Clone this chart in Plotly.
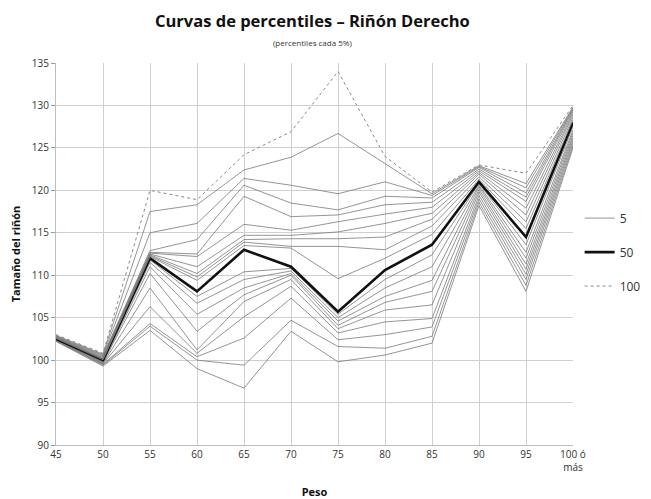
import plotly.graph_objects as go

weights = [45, 50, 55, 60, 65, 70, 75, 80, 85, 90, 95, 100]
tick_labels = ["45", "50", "55", "60", "65", "70", "75", "80", "85", "90", "95", "100 ó<br>más"]

p5 = [102.2, 99.3, 103.5, 99.0, 96.7, 103.4, 99.8, 100.6, 102.0, 118.2, 108.1, 125.0]
p10 = [102.25, 99.4, 104.0, 100.0, 99.4, 104.7, 101.6, 101.4, 102.8, 118.6, 108.8, 125.3]
p15 = [102.3, 99.5, 104.3, 100.4, 102.6, 107.3, 102.4, 103.0, 103.9, 119.0, 109.5, 125.6]
p20 = [102.35, 99.55, 106.3, 100.8, 105.1, 108.7, 103.2, 104.5, 104.9, 119.4, 110.1, 125.9]
p25 = [102.4, 99.6, 108.5, 101.2, 106.9, 109.5, 103.7, 105.9, 106.5, 119.8, 110.7, 126.2]
p30 = [102.42, 99.7, 110.2, 103.4, 107.7, 110.0, 104.1, 106.8, 108.1, 120.1, 111.3, 126.5]
p35 = [102.45, 99.75, 111.0, 105.4, 108.5, 110.2, 104.6, 107.5, 109.4, 120.4, 112.0, 126.8]
p40 = [102.47, 99.8, 111.5, 106.7, 109.5, 110.5, 105.0, 108.5, 111.0, 120.6, 112.7, 127.1]
p45 = [102.5, 99.9, 111.8, 107.5, 110.4, 110.8, 105.4, 109.5, 112.4, 120.8, 113.6, 127.5]
p50 = [102.5, 100.0, 112.0, 108.1, 113.0, 111.0, 105.7, 110.6, 113.6, 121.0, 114.5, 128.0]
p55 = [102.55, 100.05, 112.2, 109.4, 113.5, 113.2, 109.6, 112.0, 114.8, 121.3, 115.5, 128.3]
p60 = [102.6, 100.1, 112.3, 109.8, 113.9, 113.4, 113.4, 113.0, 115.8, 121.6, 116.3, 128.6]
p65 = [102.62, 100.15, 112.4, 110.2, 114.2, 114.3, 114.3, 114.5, 116.6, 121.9, 117.1, 128.9]
p70 = [102.65, 100.2, 112.5, 111.0, 114.7, 114.7, 115.1, 116.1, 117.3, 122.1, 117.9, 129.1]
p75 = [102.7, 100.3, 112.6, 112.2, 116.0, 115.3, 116.3, 117.2, 118.0, 122.3, 118.7, 129.3]
p80 = [102.75, 100.4, 112.7, 112.5, 119.3, 116.9, 117.1, 118.3, 118.6, 122.5, 119.2, 129.5]
p85 = [102.8, 100.5, 112.9, 114.2, 120.6, 118.5, 117.7, 119.3, 119.1, 122.7, 119.7, 129.6]
p90 = [102.85, 100.6, 115.0, 116.1, 121.4, 120.6, 119.6, 121.0, 119.4, 122.8, 120.3, 129.7]
p95 = [102.9, 100.7, 117.5, 118.3, 122.4, 123.9, 126.7, 123.2, 119.6, 122.9, 120.8, 129.8]
p100 = [103.0, 100.8, 120.0, 118.9, 124.2, 126.9, 134.0, 124.0, 119.8, 123.0, 122.0, 130.0]

percentiles = [5, 10, 15, 20, 25, 30, 35, 40, 45, 50, 55, 60, 65, 70, 75, 80, 85, 90, 95, 100]
series = [p5, p10, p15, p20, p25, p30, p35, p40, p45, p50,
          p55, p60, p65, p70, p75, p80, p85, p90, p95, p100]

fig = go.Figure()
for p, vals in zip(percentiles, series):
    if p == 50:
        line = dict(color="#111111", width=2.6)
    elif p == 100:
        line = dict(color="#8a8a8a", width=1, dash="dot")
    else:
        line = dict(color="#7a7a7a", width=0.8)
    fig.add_trace(go.Scatter(
        x=weights, y=vals, mode="lines", name=str(p), line=line,
        showlegend=p in (5, 50, 100), legendgroup=str(p),
        legendrank={5: 1, 50: 2, 100: 3}.get(p, 10),
    ))

font_family = "Open Sans, Lato, sans-serif"
# page body has an 8px margin, so the figure is 8px smaller than the window
fig.update_layout(
    width=643, height=491,
    margin=dict(l=48, r=78, t=55, b=54),
    paper_bgcolor="white", plot_bgcolor="white",
    font=dict(family=font_family, color="#333333", size=10),
    xaxis=dict(
        range=[45, 100], tickvals=weights, ticktext=tick_labels,
        showgrid=True, gridcolor="#cfcfcf", gridwidth=1,
        showline=True, linecolor="#bdbdbd", linewidth=1,
        ticks="", tickfont=dict(size=10, color="#333333"),
        title=dict(text="<b>Peso</b>", font=dict(size=11, color="#111111"), standoff=16),
        zeroline=False, automargin=False,
    ),
    yaxis=dict(
        range=[90, 135], dtick=5,
        showgrid=True, gridcolor="#cfcfcf", gridwidth=1,
        showline=True, linecolor="#bdbdbd", linewidth=1,
        ticks="outside", ticklen=4, tickcolor="#9a9a9a",
        tickfont=dict(size=10, color="#333333"),
        title=dict(text="<b>Tamaño del riñón</b>", font=dict(size=11, color="#111111"), standoff=8),
        zeroline=False, automargin=False,
    ),
    legend=dict(
        xref="container", x=0.889, xanchor="left",
        yref="paper", y=0.632, yanchor="top",
        font=dict(size=12, color="#333333"), itemwidth=30,
        tracegroupgap=15, bgcolor="rgba(0,0,0,0)",
    ),
    annotations=[
        dict(text="<b>Curvas de percentiles – Riñón Derecho</b>", xref="paper", yref="paper",
             x=0.496, y=1.0, yshift=43, xanchor="center", yanchor="middle", showarrow=False,
             font=dict(size=16.5, color="#111111", family=font_family)),
        dict(text="(percentiles cada 5%)", xref="paper", yref="paper",
             x=0.496, y=1.0, yshift=21, xanchor="center", yanchor="middle", showarrow=False,
             font=dict(size=8, color="#333333", family=font_family)),
    ],
)

fig.write_html("out.html")
